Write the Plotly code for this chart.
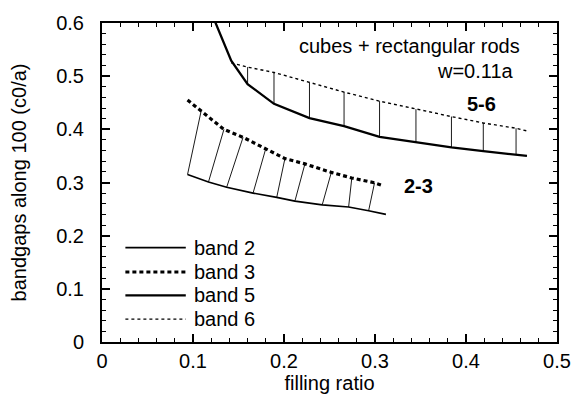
import plotly.graph_objects as go

# ---- data ----
x56 = [0.120, 0.142, 0.160, 0.189, 0.228, 0.266, 0.305, 0.345, 0.384, 0.419, 0.455, 0.467]
band5_y = [0.620, 0.529, 0.485, 0.448, 0.421, 0.406, 0.386, 0.3756, 0.366, 0.359, 0.353, 0.350]
band6_y = [None, 0.525, 0.517, 0.507, 0.488, 0.470, 0.453, 0.438, 0.424, 0.412, 0.402, 0.397]

band2_x = [0.094, 0.117, 0.137, 0.166, 0.192, 0.212, 0.242, 0.271, 0.293, 0.312]
band2_y = [0.315, 0.301, 0.291, 0.280, 0.272, 0.265, 0.258, 0.254, 0.247, 0.240]
band3_x = [0.094, 0.109, 0.134, 0.155, 0.180, 0.201, 0.223, 0.252, 0.2745, 0.2995, 0.308]
band3_y = [0.455, 0.435, 0.400, 0.385, 0.364, 0.345, 0.335, 0.319, 0.3085, 0.2995, 0.2945]

x_ticks = [0, 0.1, 0.2, 0.3, 0.4, 0.5]
y_ticks = [0, 0.1, 0.2, 0.3, 0.4, 0.5, 0.6]

legend_names = ["band 2", "band 3", "band 5", "band 6"]

FONT = "Liberation Sans, Arial, sans-serif"
FS = 20

styles = {
    "band 2": dict(color="black", width=1.6),
    "band 3": dict(color="black", width=3.2, dash="4px,3px"),
    "band 5": dict(color="black", width=2.3),
    "band 6": dict(color="black", width=1.4, dash="3px,3px"),
}

fig = go.Figure()

# hatch lines between band 2 and band 3 (slanted)
hx, hy = [], []
for i in range(len(band2_x) - 1):
    hx += [band2_x[i], band3_x[i + 1], None]
    hy += [band2_y[i], band3_y[i + 1], None]
fig.add_trace(go.Scatter(x=hx, y=hy, mode="lines", line=dict(color="black", width=0.9),
                         showlegend=False, hoverinfo="skip"))

# hatch lines between band 5 and band 6 (vertical)
vx, vy = [], []
for i in range(2, len(x56) - 1):
    vx += [x56[i], x56[i], None]
    vy += [band5_y[i], band6_y[i], None]
fig.add_trace(go.Scatter(x=vx, y=vy, mode="lines", line=dict(color="black", width=0.9),
                         showlegend=False, hoverinfo="skip"))

series = {
    "band 2": (band2_x, band2_y),
    "band 3": (band3_x, band3_y),
    "band 5": (x56, band5_y),
    "band 6": (x56, band6_y),
}
for name in legend_names:
    xs, ys = series[name]
    fig.add_trace(go.Scatter(x=xs, y=ys, mode="lines", name=name, line=styles[name],
                             showlegend=False))

# manual legend (longer line samples, tighter rows like the reference)
plot_l, plot_t, plot_w, plot_h = 102, 14, 467, 328
row_px = [245, 270, 294, 318.5]
for name, ypx in zip(legend_names, row_px):
    yp = (plot_t + plot_h - ypx) / plot_h
    fig.add_shape(type="line", xref="paper", yref="paper",
                  x0=(126 - plot_l) / plot_w, x1=(188 - plot_l) / plot_w, y0=yp, y1=yp,
                  line=styles[name])
    fig.add_annotation(xref="paper", yref="paper", x=(194 - plot_l) / plot_w, y=yp,
                       text=name, showarrow=False, xanchor="left", yanchor="middle",
                       font=dict(family=FONT, size=FS, color="black"))

ann_font = dict(family=FONT, size=FS, color="black")
fig.add_annotation(x=0.4615, y=0.556, text="cubes + rectangular rods", showarrow=False,
                   xanchor="right", yanchor="middle", font=ann_font)
fig.add_annotation(x=0.4547, y=0.510, text="w=0.11a", showarrow=False,
                   xanchor="right", yanchor="middle", font=ann_font)
fig.add_annotation(x=0.399, y=0.448, text="<b>5-6</b>", showarrow=False,
                   xanchor="left", yanchor="middle", font=ann_font)
fig.add_annotation(x=0.330, y=0.293, text="<b>2-3</b>", showarrow=False,
                   xanchor="left", yanchor="middle", font=ann_font)

axis_common = dict(
    showline=True, linecolor="black", linewidth=2, mirror="allticks",
    ticks="inside", ticklen=8, tickwidth=1.5, tickcolor="black",
    showgrid=False, zeroline=False,
    tickfont=dict(family=FONT, size=FS, color="black"),
    title_font=dict(family=FONT, size=FS, color="black"),
)

fig.update_xaxes(range=[0, 0.5], tickvals=x_ticks, ticktext=[f"{v:g}" for v in x_ticks],
                 minor=dict(dtick=0.02, ticks="inside", ticklen=4, tickcolor="black", tickwidth=1),
                 title_text="filling ratio", title_standoff=0, **axis_common)
fig.update_yaxes(range=[0, 0.6], tickvals=y_ticks, ticktext=[f"{v:g}" for v in y_ticks],
                 minor=dict(dtick=0.02, ticks="inside", ticklen=4, tickcolor="black", tickwidth=1),
                 title_text="bandgaps along 100 (c0/a)", title_standoff=24,
                 ticklabelstandoff=12, **axis_common)

fig.update_layout(
    width=583, height=403,
    margin=dict(l=102, r=14, t=14, b=61),
    paper_bgcolor="white", plot_bgcolor="white",
    font=dict(family=FONT, size=FS, color="black"),
    showlegend=False,
)

fig.write_html("out.html")
